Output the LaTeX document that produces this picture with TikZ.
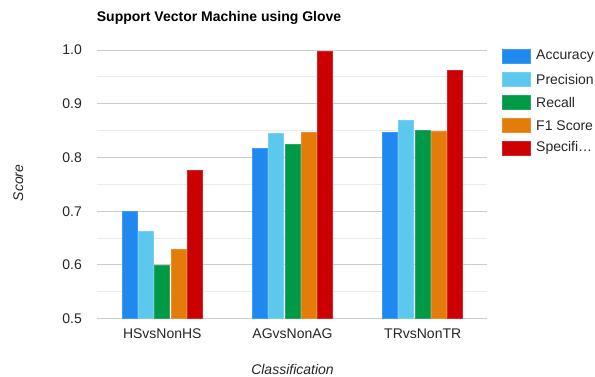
\documentclass[tikz,border=0pt]{standalone}
\usepackage{fontspec}
\setmainfont{Liberation Sans}
\definecolor{cAcc}{RGB}{32,137,240}
\definecolor{cPre}{RGB}{92,200,238}
\definecolor{cRec}{RGB}{0,153,72}
\definecolor{cF1}{RGB}{228,124,10}
\definecolor{cSpe}{RGB}{204,0,0}
\definecolor{gridmaj}{RGB}{204,204,204}
\definecolor{gridmin}{RGB}{235,235,235}
\tikzset{
  lbl/.style={font=\fontsize{14}{16}\selectfont, text=black!85, inner sep=0pt},
  ttl/.style={font=\fontsize{14}{16}\selectfont\bfseries, inner sep=0pt},
  axt/.style={font=\fontsize{14}{16}\selectfont\itshape, text=black!85, inner sep=0pt},
  majline/.style={draw=gridmaj, line width=1pt},
  minline/.style={draw=gridmin, line width=1pt},
  barbox/.style={line width=0.5pt},
}
\newcommand{\barat}[3]{% x, value, color
  \filldraw[barbox, fill=#3, draw=#3!85!white] (#1,318.7) rectangle ({#1+15},{318.7-(#2-0.5)*537.4});
}
\begin{document}
\begin{tikzpicture}[x=1pt,y=-1pt]
\useasboundingbox (0,0) rectangle (595,376);
\fill[white] (0,0) rectangle (595,376);
% grid
\foreach \v in {0.55,0.65,0.75,0.85,0.95}
  \draw[minline] (96.7,{318.7-(\v-0.5)*537.4}) -- (487.3,{318.7-(\v-0.5)*537.4});
\foreach \v in {0.5,0.6,0.7,0.8,0.9,1.0}
  \draw[majline] (96.7,{318.7-(\v-0.5)*537.4}) -- (487.3,{318.7-(\v-0.5)*537.4});
% tick labels
\node[lbl, anchor=east] (t05) at (82,318.7) {0.5};
\node[lbl, anchor=east] (t06) at (82,{318.7-0.1*537.4}) {0.6};
\node[lbl, anchor=east] (t07) at (82,{318.7-0.2*537.4}) {0.7};
\node[lbl, anchor=east] (t08) at (82,{318.7-0.3*537.4}) {0.8};
\node[lbl, anchor=east] (t09) at (82,{318.7-0.4*537.4}) {0.9};
\node[lbl, anchor=east] (t10) at (82,{318.7-0.5*537.4}) {1.0};
% bars HS
\barat{122.0}{0.700}{cAcc}
\barat{138.3}{0.663}{cPre}
\barat{154.6}{0.599}{cRec}
\barat{170.9}{0.629}{cF1}
\barat{187.2}{0.776}{cSpe}
% bars AG
\barat{252.2}{0.818}{cAcc}
\barat{268.5}{0.845}{cPre}
\barat{284.8}{0.825}{cRec}
\barat{301.1}{0.847}{cF1}
\barat{317.4}{0.998}{cSpe}
% bars TR
\barat{382.4}{0.847}{cAcc}
\barat{398.7}{0.870}{cPre}
\barat{415.0}{0.851}{cRec}
\barat{431.3}{0.849}{cF1}
\barat{447.6}{0.963}{cSpe}
% category labels
\node[lbl] (cHS) at (162.3,334) {HSvsNonHS};
\node[lbl] (cAG) at (292.5,334) {AGvsNonAG};
\node[lbl] (cTR) at (422.7,334) {TRvsNonTR};
% axis titles
\node[axt, rotate=90] (ylab) at (18.3,183) {Score};
\node[axt] (xlab) at (292.5,369.5) {Classification};
% title
\node[ttl, anchor=west] (title) at (96.7,18.3) {Support Vector Machine using Glove};
% legend
\foreach \c/\t [count=\k from 0] in {cAcc/Accuracy,cPre/Precision,cRec/Recall,cF1/F1 Score,cSpe/Specifi…}{
  \filldraw[barbox, fill=\c, draw=\c!85!white] (502,{49.3+23*\k}) rectangle (530,{63.3+23*\k});
  \node[lbl, anchor=west] (leg\k) at (536,{56.3+23*\k}) {\t};
}
\end{tikzpicture}
\end{document}
